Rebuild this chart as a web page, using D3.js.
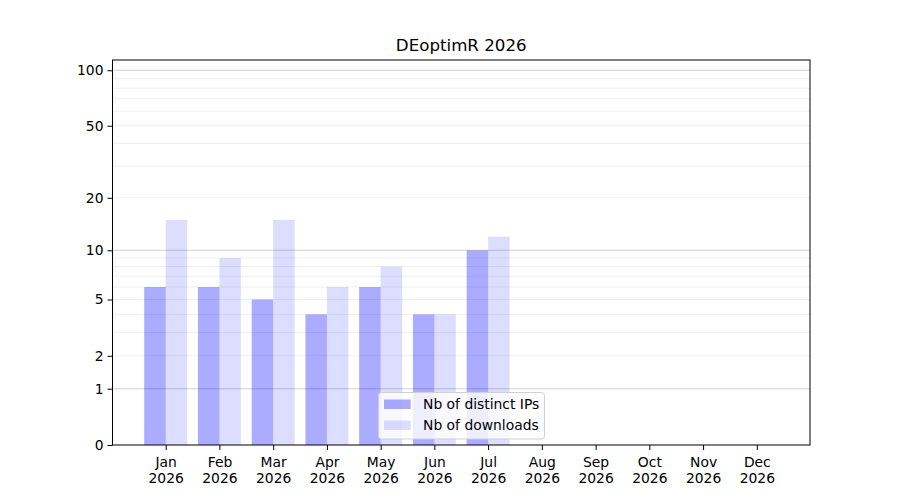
<!DOCTYPE html>
<html><head><meta charset="utf-8">
<script src="https://cdn.jsdelivr.net/npm/d3@7"></script>
<style>body{margin:0;background:#fff}svg{font-family:"DejaVu Sans",sans-serif}</style>
</head><body><svg id="c" width="900" height="500"></svg>
<script>
const months = ["Jan","Feb","Mar","Apr","May","Jun","Jul","Aug","Sep","Oct","Nov","Dec"];
const year = "2026";
const distinctIPs = [6,6,5,4,6,4,10,0,0,0,0,0];
const downloads = [15,9,15,6,8,4,12,0,0,0,0,0];
const yTicks = [0,1,2,5,10,20,50,100];
const yMajorGrid = [1,10,100];
const yMinorGrid = [2,3,4,5,6,7,8,9,20,30,40,50,60,70,80,90];
const seriesNames = ["Nb of distinct IPs","Nb of downloads"];
const title = "DEoptimR 2026";

const FS = "13.89px";
const svg = d3.select("#c");
const L=112.5,R=810,T=60,B=445;
const x = d3.scaleLinear().domain([-0.99,11.99]).range([L,R]);
const y = d3.scaleSymlog().constant(1).domain([0,113.6]).range([B,T]);
const bw = 0.4;

// grid
svg.append("g").selectAll("line").data(yMinorGrid).join("line")
  .attr("x1",L).attr("x2",R).attr("y1",d=>y(d)).attr("y2",d=>y(d))
  .attr("stroke","#ebebeb").attr("stroke-width",0.8);
svg.append("g").selectAll("line").data(yMajorGrid).join("line")
  .attr("x1",L).attr("x2",R).attr("y1",d=>y(d)).attr("y2",d=>y(d))
  .attr("stroke","#c8c8c8").attr("stroke-width",0.8);

// bars
svg.append("g").selectAll("rect").data(distinctIPs).join("rect")
  .attr("x",(d,i)=>x(i-bw)).attr("width",x(bw)-x(0))
  .attr("y",d=>y(d)).attr("height",d=>B-y(d))
  .attr("fill","blue").attr("fill-opacity",0.33);
svg.append("g").selectAll("rect").data(downloads).join("rect")
  .attr("x",(d,i)=>x(i)).attr("width",x(bw)-x(0))
  .attr("y",d=>y(d)).attr("height",d=>B-y(d))
  .attr("fill","blue").attr("fill-opacity",0.135);

// frame
svg.append("rect").attr("x",L).attr("y",T).attr("width",R-L).attr("height",B-T)
  .attr("fill","none").attr("stroke","#000").attr("stroke-width",1);

// y axis
const ya = svg.append("g").attr("transform",`translate(${L},0)`)
  .call(d3.axisLeft(y).tickValues(yTicks).tickFormat(d3.format("d")).tickSize(5).tickPadding(4));
ya.select(".domain").remove();
ya.selectAll("text").attr("font-size",FS).attr("font-family","DejaVu Sans").attr("fill","#000");
ya.selectAll("line").attr("stroke","#000");

// x axis
const xa = svg.append("g").attr("transform",`translate(0,${B})`)
  .call(d3.axisBottom(x).tickValues(d3.range(12)).tickFormat(i=>months[i]).tickSize(5).tickPadding(4));
xa.select(".domain").remove();
xa.selectAll("line").attr("stroke","#000");
xa.selectAll("text").attr("font-size",FS).attr("font-family","DejaVu Sans").attr("fill","#000")
  .attr("dy",null).attr("y",null)
  .each(function(i){
    const t=d3.select(this); t.text(null);
    t.append("tspan").attr("x",0).attr("y",21.5).text(months[i]);
    t.append("tspan").attr("x",0).attr("y",37.5).text(year);
  });

// title
svg.append("text").attr("x",(L+R)/2).attr("y",50.7).attr("text-anchor","middle")
  .attr("font-size","16.67px").text(title);

// legend
const lg = svg.append("g");
lg.append("rect").attr("x",378.5).attr("y",392.5).attr("width",166).attr("height",46.5)
  .attr("rx",3).attr("fill","#fff").attr("fill-opacity",0.8).attr("stroke","#d0d0d0");
const ops=[0.33,0.135];
seriesNames.forEach((n,k)=>{
  lg.append("rect").attr("x",384).attr("y",399.5+k*21).attr("width",26.7).attr("height",9.5)
    .attr("fill","blue").attr("fill-opacity",ops[k]);
  lg.append("text").attr("x",423).attr("y",409+k*21).attr("font-size",FS).text(n);
});
</script></body></html>
